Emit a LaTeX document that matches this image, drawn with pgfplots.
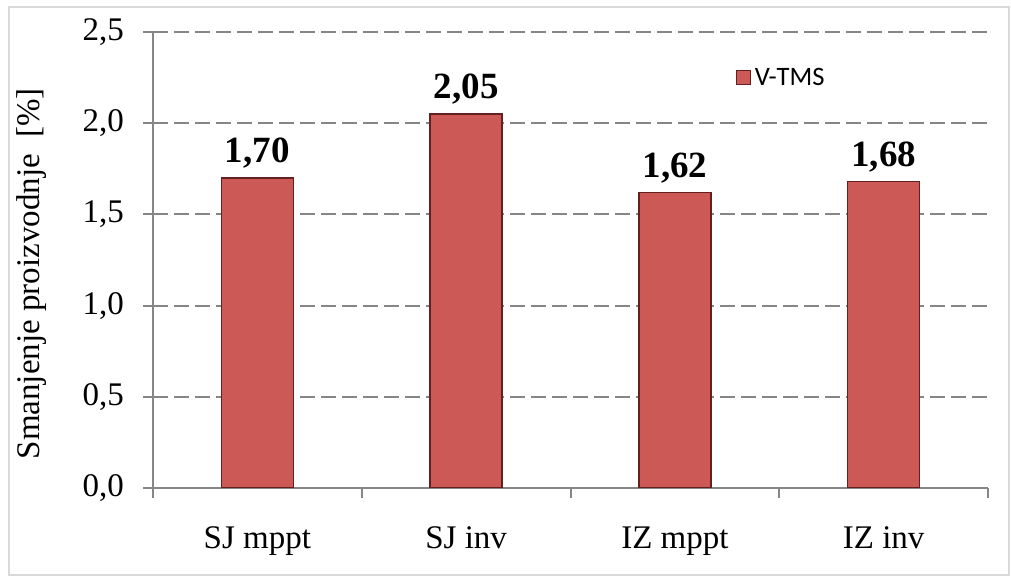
\documentclass[border=0pt]{standalone}
\usepackage{pgfplots}
\pgfplotsset{compat=1.18}
\usepackage{fontspec}
\setmainfont{Liberation Serif}
\newfontfamily\carlito{Carlito}
\definecolor{barfill}{RGB}{205,89,86}
\definecolor{baredge}{RGB}{100,32,30}
\definecolor{axgray}{RGB}{134,134,134}
\definecolor{framegray}{RGB}{217,217,217}
\begin{document}
\begin{tikzpicture}
\useasboundingbox (-76.5pt,-44.5pt) rectangle (429pt,244pt);
\draw[framegray, line width=1pt] (-72pt,-43.5pt) rectangle (428pt,240.5pt);
\begin{axis}[
  at={(0,0)}, anchor=south west,
  scale only axis,
  width=417.5pt, height=228pt,
  ybar, bar width=36pt,
  xmin=-0.5, xmax=3.5,
  ymin=0, ymax=2.5,
  ytick={0,0.5,1,1.5,2,2.5},
  xtick={0,1,2,3},
  xticklabels={SJ mppt, SJ inv, IZ mppt, IZ inv},
  minor xtick={-0.5,0.5,1.5,2.5,3.5},
  every major x tick/.append style={draw=none},
  tick align=outside,
  major tick length=5pt, minor tick length=5pt,
  tick style={axgray, line width=1pt},
  axis x line*=bottom, axis y line*=left,
  axis line style={axgray, line width=1pt, -},
  ymajorgrids,
  grid style={axgray, line width=1pt, dash pattern=on 7.5pt off 3pt},
  /pgf/number format/.cd, fixed, fixed zerofill, precision=1, use comma, assume math mode=true,
  /pgfplots/.cd,
  ticklabel style={font=\fontsize{16.5}{19}\selectfont},
  xticklabel style={yshift=-11pt},
  yticklabel style={xshift=-6pt},
  ylabel={Smanjenje proizvodnje\ \ [\%]},
  ylabel style={at={(axis description cs:-0.145,0.47)}, anchor=center, font=\fontsize{16.5}{19}\selectfont},
  nodes near coords,
  nodes near coords style={font=\fontsize{18.5}{21}\selectfont\bfseries, yshift=1pt, /pgf/number format/.cd, fixed, fixed zerofill, precision=2, use comma, assume math mode=true},
  legend style={at={(rel axis cs:0.69,0.94)}, anchor=north west, draw=none, fill=none, font=\carlito\fontsize{13.3}{15}\selectfont},
  legend image code/.code={\fill[barfill, draw=baredge, line width=0.6pt] (0pt,-3.5pt) rectangle (7pt,3.5pt);},
]
\addplot[fill=barfill, draw=baredge, line width=0.7pt] coordinates {(0,1.70) (1,2.05) (2,1.62) (3,1.68)};
\legend{V-TMS}
\end{axis}
\end{tikzpicture}
\end{document}
